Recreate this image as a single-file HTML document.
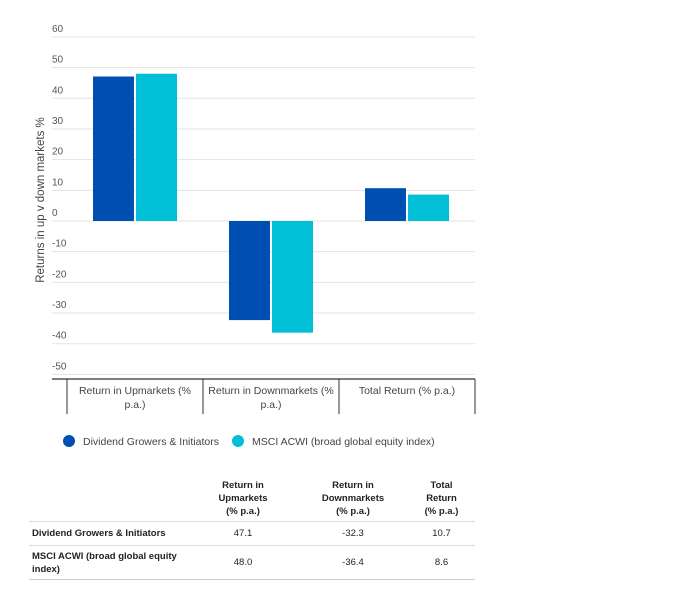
<!DOCTYPE html>
<html><head><meta charset="utf-8"><style>
body{margin:0;background:#fff;font-family:"Liberation Sans",sans-serif;}
#wrap{position:relative;width:680px;height:599px;overflow:hidden;}
svg text{font-family:"Liberation Sans",sans-serif;}
table{position:absolute;left:29px;top:479px;width:446px;border-collapse:collapse;font-size:9.5px;color:#222;}
th{font-weight:bold;text-align:center;padding:0 0 3px 0;line-height:13px;vertical-align:bottom;}
td{text-align:center;border-top:1px solid #ddd;height:23px;padding:0;}
td.l{text-align:left;font-weight:bold;padding-left:3px;line-height:13px;}
tr.last td{border-bottom:1px solid #ccc;height:33px;}
</style></head><body><div id="wrap">
<svg id="c" width="680" height="470" style="position:absolute;left:0;top:0"></svg>
<table>
<tr><th style="width:159px"></th><th style="width:110px">Return in<br>Upmarkets<br>(% p.a.)</th><th style="width:110px">Return in<br>Downmarkets<br>(% p.a.)</th><th>Total<br>Return<br>(% p.a.)</th></tr>
<tr><td class="l">Dividend Growers &amp; Initiators</td><td>47.1</td><td>-32.3</td><td>10.7</td></tr>
<tr class="last"><td class="l">MSCI ACWI (broad global equity<br>index)</td><td>48.0</td><td>-36.4</td><td>8.6</td></tr>
</table>
</div>
<script>
const categories=[["Return in Upmarkets (%","p.a.)"],["Return in Downmarkets (%","p.a.)"],["Total Return (% p.a.)"]];
const seriesNames=["Dividend Growers & Initiators","MSCI ACWI (broad global equity index)"];
const dividendValues=[47.1,-32.3,10.7];
const msciValues=[48.0,-36.4,8.6];
const yTicks=[60,50,40,30,20,10,0,-10,-20,-30,-40,-50];
const colors=["#0050b4","#00bfd6"];
const NS="http://www.w3.org/2000/svg";
const svg=document.getElementById('c');
const y=v=>221-v*3.068;
const x0=67,cw=136;
function mk(t,a,p){const e=document.createElementNS(NS,t);for(const k in a)e.setAttribute(k,a[k]);(p||svg).appendChild(e);return e;}
yTicks.forEach(v=>{
 const l=mk('line',{x1:52,x2:475,y1:y(v),y2:y(v),stroke:'#e3e3e3','stroke-width':1});
 
 
 const t=mk('text',{x:52,y:y(v)-5,'font-size':10,fill:'#555'});t.textContent=v;
 
 
});
const yt=mk('text',{transform:'translate(44,200) rotate(-90)','text-anchor':'middle','font-size':11.5,fill:'#444'});
yt.textContent='Returns in up v down markets %';


[dividendValues,msciValues].forEach((arr,s)=>{
 arr.forEach((v,i)=>{
  const c=x0+cw*i+cw/2;
  const bx=s===0?c-42:c+1;
  const r=mk('rect',{x:bx,width:41,y:Math.min(y(v),y(0)),height:Math.abs(y(v)-y(0)),fill:colors[s]});
  
  
 });
});
const ax=mk('line',{x1:52,x2:475,y1:379,y2:379,stroke:'#333','stroke-width':1.2});


for(let i=0;i<=categories.length;i++){
 const tk=mk('line',{x1:x0+cw*i,x2:x0+cw*i,y1:379,y2:414,stroke:'#333','stroke-width':1});
 
 
}
categories.forEach((lines,i)=>{
 lines.forEach((s,j)=>{
  const t=mk('text',{x:x0+cw*i+cw/2,y:394+j*14,'text-anchor':'middle','font-size':10.5,fill:'#444'});t.textContent=s;
  
  
 });
});
const lx=[69,238];
seriesNames.forEach((n,s)=>{
 const g=mk('g',{});
 
 
 mk('circle',{cx:lx[s],cy:441,r:6,fill:colors[s]},g);
 const t=mk('text',{x:lx[s]+14,y:445,'font-size':10.5,fill:'#444'},g);t.textContent=n;
});
</script></body></html>
